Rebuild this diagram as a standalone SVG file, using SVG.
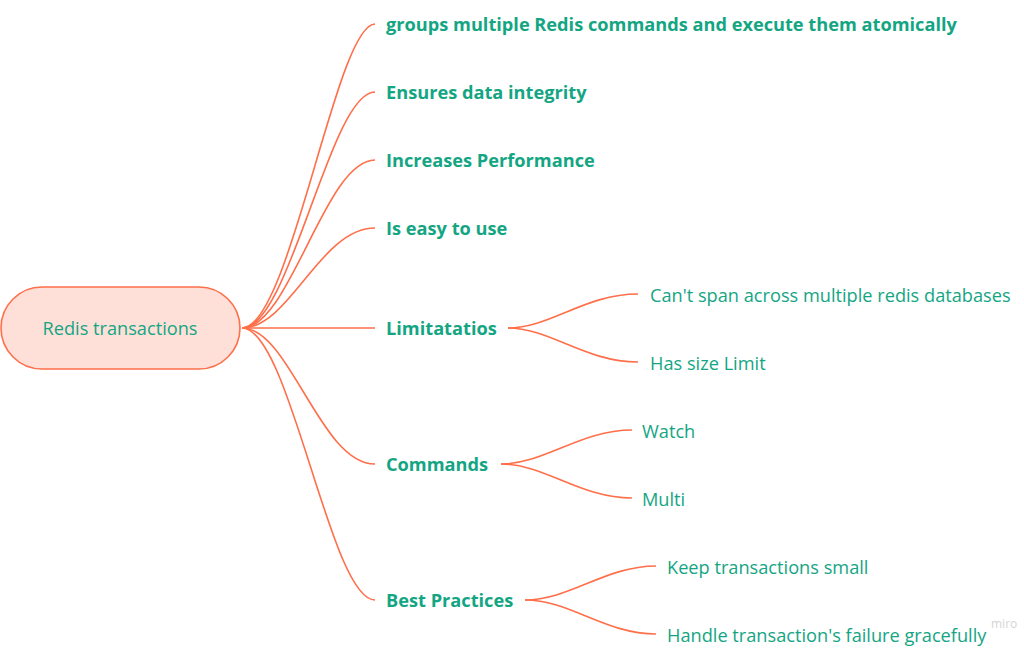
<svg xmlns="http://www.w3.org/2000/svg" width="1024" height="657" viewBox="0 0 1024 657">
<style>
.c{fill:none;stroke:#ff6f4a;stroke-width:1.6}
.b{font-family:"Open Sans","Liberation Sans",sans-serif;font-weight:bold;font-size:18.2px;fill:#14a583}
.r{font-family:"Open Sans","Liberation Sans",sans-serif;font-size:18.2px;fill:#14a583}
</style>
<rect width="1024" height="657" fill="#ffffff"/>
<g id="connectors">
<path class="c" d="M242,328 C290,328 336,24 375,24"/>
<path class="c" d="M242,328 C290,328 330,92 375,92"/>
<path class="c" d="M242,328 C290,328 325,160 375,160"/>
<path class="c" d="M242,328 C290,328 320,228 375,228"/>
<path class="c" d="M242,328 L375,328"/>
<path class="c" d="M242,328 C290,328 320,464 375,464"/>
<path class="c" d="M242,328 C290,328 330,600 375,600"/>
<path class="c" d="M508,328 C550,328 585,294 638,294"/>
<path class="c" d="M508,328 C550,328 585,362 638,362"/>
<path class="c" d="M501,464 C545,464 580,430 632,430"/>
<path class="c" d="M501,464 C545,464 580,498 632,498"/>
<path class="c" d="M525,600 C570,600 605,566 656,566"/>
<path class="c" d="M525,600 C570,600 605,634 656,634"/>
</g>
<g id="root">
<rect x="1" y="287" width="239" height="82" rx="41" fill="#ffe0d9" stroke="#ff6f4a" stroke-width="1.6"/>
<text class="r" x="120" y="335" text-anchor="middle">Redis transactions</text>
</g>
<g id="n1"><text class="b" x="386" y="30.5">groups multiple Redis commands and execute them atomically</text></g>
<g id="n2"><text class="b" x="386" y="98.5">Ensures data integrity</text></g>
<g id="n3"><text class="b" x="386" y="166.5">Increases Performance</text></g>
<g id="n4"><text class="b" x="386" y="234.5">Is easy to use</text></g>
<g id="n5"><text class="b" x="386" y="334.5">Limitatatios</text></g>
<g id="n5a"><text class="r" x="650" y="301.5">Can't span across multiple redis databases</text></g>
<g id="n5b"><text class="r" x="650" y="369.5">Has size Limit</text></g>
<g id="n6"><text class="b" x="386" y="470.5">Commands</text></g>
<g id="n6a"><text class="r" x="642" y="437.5">Watch</text></g>
<g id="n6b"><text class="r" x="642" y="505.5">Multi</text></g>
<g id="n7"><text class="b" x="386" y="606.5">Best Practices</text></g>
<g id="n7a"><text class="r" x="667" y="573.5">Keep transactions small</text></g>
<g id="n7b"><text class="r" x="667" y="641.5">Handle transaction's failure gracefully</text></g>
<text x="991" y="628" font-family="'Open Sans','Liberation Sans',sans-serif" font-size="12" fill="#d4d4d4">miro</text>
</svg>
